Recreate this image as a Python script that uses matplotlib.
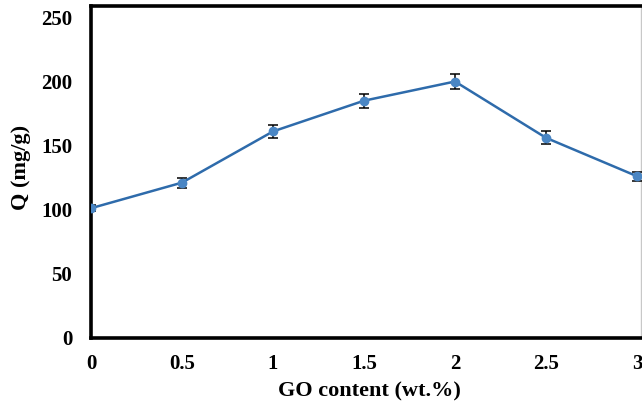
import matplotlib
matplotlib.use("Agg")
import matplotlib.pyplot as plt

go_content = [0, 0.5, 1, 1.5, 2, 2.5, 3]
q_values = [101, 121, 161, 185, 200, 156, 126]
q_errors = [2.5, 4, 5, 5.5, 6, 5, 3.5]
x_ticks = [0, 0.5, 1, 1.5, 2, 2.5, 3]
x_tick_labels = ["0", "0.5", "1", "1.5", "2", "2.5", "3"]
y_ticks = [0, 50, 100, 150, 200, 250]

plt.rcParams['font.family'] = ['Liberation Serif', 'DejaVu Serif']
plt.rcParams['font.weight'] = 'bold'

fig = plt.figure(figsize=(6.42, 4.12), dpi=100)
ax = fig.add_axes([91/642, 1-337.5/412, (640.5-91)/642, (337.5-5.5)/412])

ax.errorbar(go_content, q_values, yerr=q_errors, color='#2e6bab', lw=1.8,
            marker='o', ms=6, mfc='#4a86c4', mec='#4a86c4',
            ecolor='black', elinewidth=1.1, capsize=3.5, capthick=1.1, zorder=3)

ax.set_xlim(0, 3.0 * (640.5-91)/(637-91))
ax.set_ylim(0, 250 * (337.5-5.5)/(337.5-17.5))
ax.set_xticks(x_ticks)
ax.set_xticklabels(x_tick_labels)
ax.set_yticks(y_ticks)
ax.tick_params(axis='both', length=0, labelsize=15)
ax.tick_params(axis='y', pad=13.5)
ax.tick_params(axis='x', pad=12)
for lab in ax.get_xticklabels() + ax.get_yticklabels():
    lab.set_fontweight('bold')

for s in ['left', 'bottom', 'top']:
    ax.spines[s].set_linewidth(2.6)
    ax.spines[s].set_color('black')
ax.spines['right'].set_linewidth(1.0)
ax.spines['right'].set_color('#c8c8c8')

ax.set_xlabel('GO content (wt.%)', fontsize=16, fontweight='bold')
ax.set_ylabel('Q (mg/g)', fontsize=16, fontweight='bold')
ax.xaxis.set_label_coords(0.506, -(381-337.5)/332)
ax.yaxis.set_label_coords(-(91-31)/549.5, (337.5-167)/332)

fig.savefig('out.png', dpi=100)
